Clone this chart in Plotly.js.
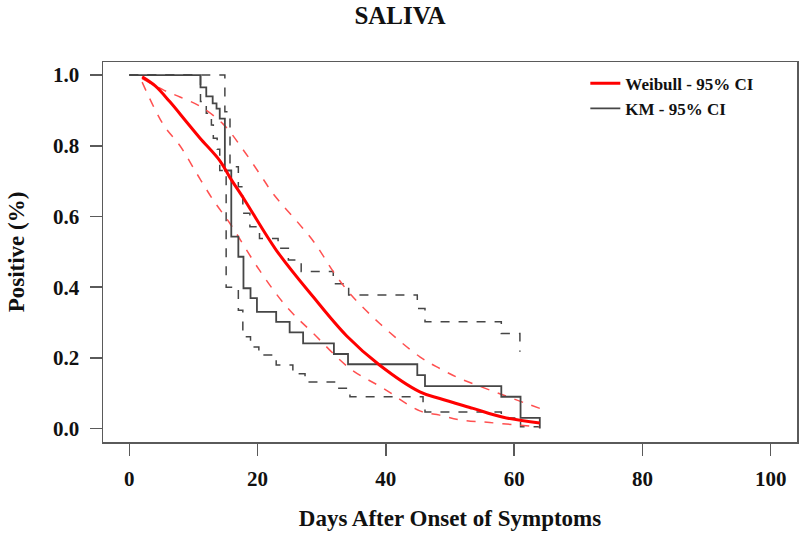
<!DOCTYPE html>
<html>
<head>
<meta charset="utf-8">
<script src="https://cdn.plot.ly/plotly-3.0.1.min.js"></script>
<style>
  html, body { margin: 0; padding: 0; background: #fff; }
  #chart { width: 800px; height: 538px; }
</style>
</head>
<body>
<div id="chart"></div>
<script>
// Weibull fit and its 95% CI
var weibullDays = [2, 4, 6.3, 8.9, 11, 14.1, 15.7, 18, 22.9, 28.7, 33.9, 39, 45.3, 48.4, 53.6, 58.3, 64];
var weibullFit = [0.995, 0.97, 0.925, 0.868, 0.822, 0.758, 0.71, 0.646, 0.505, 0.372, 0.262, 0.18, 0.104, 0.085, 0.057, 0.032, 0.016];

var weibullUpDays = [2, 5.3, 7.9, 11, 14.6, 17.7, 20.9, 22.4, 28.7, 31.8, 34.4, 39, 45.3, 48.4, 51.5, 56.2, 64];
var weibullUp = [0.99, 0.958, 0.938, 0.912, 0.862, 0.79, 0.705, 0.665, 0.53, 0.444, 0.382, 0.298, 0.203, 0.17, 0.142, 0.109, 0.057];

var weibullLoDays = [2, 5.3, 7.9, 10.5, 13.1, 15.7, 20.3, 24.5, 28.7, 34.4, 39.6, 45.3, 48.4, 51.5, 56.2, 64];
var weibullLo = [0.98, 0.86, 0.8, 0.722, 0.646, 0.58, 0.448, 0.345, 0.269, 0.17, 0.114, 0.05, 0.038, 0.025, 0.017, 0.005];

// Kaplan-Meier estimate and its 95% CI (step functions)
var kmDays = [0, 11.1, 12.0, 13.0, 13.6, 14.1, 14.9, 15.9, 17.0, 17.8, 18.9, 19.9, 22.9, 25.0, 27.1, 31.9, 34.1, 44.9, 46.1, 58.0, 61.0, 64.0];
var kmSurv = [1.0, 0.965, 0.94, 0.92, 0.905, 0.877, 0.73, 0.543, 0.486, 0.397, 0.369, 0.33, 0.302, 0.272, 0.241, 0.211, 0.182, 0.151, 0.12, 0.09, 0.03, 0.0];

var kmUpDays = [0, 14.9, 15.7, 17.0, 17.7, 18.8, 20.3, 23.2, 24.8, 26.8, 31.8, 34.2, 44.9, 46.1, 58.0, 60.9];
var kmUp = [1.0, 0.896, 0.741, 0.684, 0.609, 0.571, 0.538, 0.51, 0.477, 0.444, 0.41, 0.378, 0.34, 0.302, 0.269, 0.217];

var kmLoDays = [0, 11.1, 12.0, 12.8, 13.1, 13.7, 14.1, 15.1, 17.0, 17.7, 18.9, 20.2, 22.9, 25.5, 27.4, 32.0, 34.4, 45.8, 46.1, 58.0, 61.0, 64.0];
var kmLo = [1.0, 0.925, 0.892, 0.859, 0.821, 0.79, 0.73, 0.40, 0.335, 0.26, 0.231, 0.208, 0.18, 0.155, 0.132, 0.114, 0.09, 0.066, 0.047, 0.03, 0.005, 0.005];

var xTicks = [0, 20, 40, 60, 80, 100];
var yTicks = [0, 0.2, 0.4, 0.6, 0.8, 1.0];

var serif = 'Liberation Serif, Times New Roman, serif';
var red = 'rgb(255,0,0)';
var redCI = 'rgb(255,80,80)';
var grey = 'rgb(70,70,70)';

var traces = [
  {
    x: kmUpDays, y: kmUp, mode: 'lines', showlegend: false, hoverinfo: 'skip',
    line: {color: grey, width: 1.5, dash: 'dash', shape: 'hv'}
  },
  {
    x: kmLoDays, y: kmLo, mode: 'lines', showlegend: false, hoverinfo: 'skip',
    line: {color: grey, width: 1.5, dash: 'dash', shape: 'hv'}
  },
  {
    x: weibullUpDays, y: weibullUp, mode: 'lines', showlegend: false, hoverinfo: 'skip',
    line: {color: redCI, width: 1.5, dash: 'dash', shape: 'spline'}
  },
  {
    x: weibullLoDays, y: weibullLo, mode: 'lines', showlegend: false, hoverinfo: 'skip',
    line: {color: redCI, width: 1.5, dash: 'dash', shape: 'spline'}
  },
  {
    x: kmDays, y: kmSurv, mode: 'lines', name: 'KM - 95% CI',
    line: {color: grey, width: 1.8, shape: 'hv'}
  },
  {
    x: weibullDays, y: weibullFit, mode: 'lines', name: 'Weibull - 95% CI',
    line: {color: red, width: 3, shape: 'spline'}
  }
];

var axisCommon = {
  showgrid: false,
  zeroline: false,
  showline: true,
  mirror: true,
  linecolor: 'rgb(90,90,90)',
  linewidth: 1.5,
  ticks: 'outside',
  ticklen: 12,
  tickwidth: 1.5,
  tickcolor: 'rgb(90,90,90)',
  tickfont: {family: serif, size: 21, color: '#111', weight: 'bold'}
};

var layout = {
  width: 800,
  height: 538,
  margin: {l: 103, r: 3, t: 62, b: 96},
  paper_bgcolor: '#fff',
  plot_bgcolor: '#fff',
  title: {
    text: 'SALIVA',
    font: {family: serif, size: 25, color: '#111', weight: 'bold'},
    x: 0.5, xanchor: 'center',
    y: 0.972, yanchor: 'middle', yref: 'container'
  },
  xaxis: Object.assign({}, axisCommon, {
    range: [-4.1, 104.1],
    tickvals: xTicks,
    ticklabelstandoff: 5,
    title: {
      text: 'Days After Onset of Symptoms',
      font: {family: serif, size: 23, color: '#111', weight: 'bold'},
      standoff: 20
    }
  }),
  yaxis: Object.assign({}, axisCommon, {
    range: [-0.038, 1.037],
    tickvals: yTicks,
    tickformat: '.1f',
    ticklabelstandoff: 6,
    title: {
      text: 'Positive (%)',
      font: {family: serif, size: 23, color: '#111', weight: 'bold'},
      standoff: 22
    }
  }),
  legend: {
    x: 0.695, y: 0.99, xanchor: 'left', yanchor: 'top',
    bgcolor: 'rgba(0,0,0,0)',
    traceorder: 'reversed',
    font: {family: serif, size: 17, color: '#111', weight: 'bold'},
    tracegroupgap: 0
  }
};

Plotly.newPlot('chart', traces, layout, {staticPlot: true});
</script>
</body>
</html>
